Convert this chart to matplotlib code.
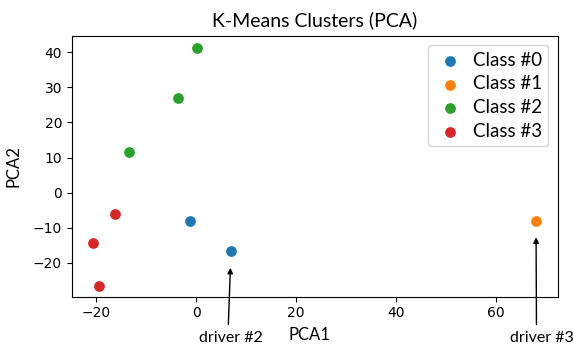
import matplotlib
matplotlib.use("Agg")
import matplotlib.pyplot as plt

classes = ["Class #0", "Class #1", "Class #2", "Class #3"]
colors = ["#1f77b4", "#ff7f0e", "#2ca02c", "#d62728"]
pc1 = {
    0: [-1.2, 7.0],
    1: [68.0],
    2: [0.2, -3.6, -13.4],
    3: [-16.2, -20.6, -19.4],
}
pc2 = {
    0: [-8.2, -16.7],
    1: [-8.0],
    2: [41.1, 26.9, 11.7],
    3: [-6.0, -14.3, -26.6],
}
annot_labels = ["driver #2", "driver #3"]
annot_points = [(7.0, -16.7), (68.0, -8.0)]
annot_text_x = [7.0, 75.5]

font = "Lato"

fig, ax = plt.subplots(figsize=(5.74, 3.46), dpi=100)
fig.subplots_adjust(left=0.125, right=0.9716, top=0.896, bottom=0.1425)

for i, name in enumerate(classes):
    ax.scatter(pc1[i], pc2[i], color=colors[i], s=45, label=name, zorder=3)

ax.set_xlim(-24.86, 72.34)
ax.set_ylim(-29.68, 44.65)
ax.set_xticks([-20, 0, 20, 40, 60])
ax.set_yticks([-20, -10, 0, 10, 20, 30, 40])
ax.tick_params(labelsize=10)

ax.set_title("K-Means Clusters (PCA)", fontsize=14, family=font, pad=7)
ax.set_xlabel("PCA1", fontsize=12, family=font)
ax.set_ylabel("PCA2", fontsize=12, family=font)
ax.xaxis.set_label_coords(0.49, -0.115)
ax.yaxis.set_label_coords(-0.104, 0.5)

relposes = [(0.45, 0.5), (0.42, 0.5)]
has = ["center", "right"]
for lab, (px, py), tx, rp, ha in zip(annot_labels, annot_points, annot_text_x, relposes, has):
    ax.annotate(lab, xy=(px, py), xycoords="data",
                xytext=(tx, 0.022), textcoords=("data", "figure fraction"),
                ha=ha, va="center", fontsize=11.5, family=font,
                arrowprops=dict(arrowstyle="-|>", color="black", lw=1,
                                mutation_scale=8, shrinkA=3, shrinkB=12,
                                relpos=rp),
                annotation_clip=False)

ax.legend(loc="upper right", prop={"family": font, "size": 13.5},
          handletextpad=0.4, borderpad=0.35, labelspacing=0.35,
          handlelength=1.6, borderaxespad=0.5)

fig.savefig("out.png", dpi=100)
